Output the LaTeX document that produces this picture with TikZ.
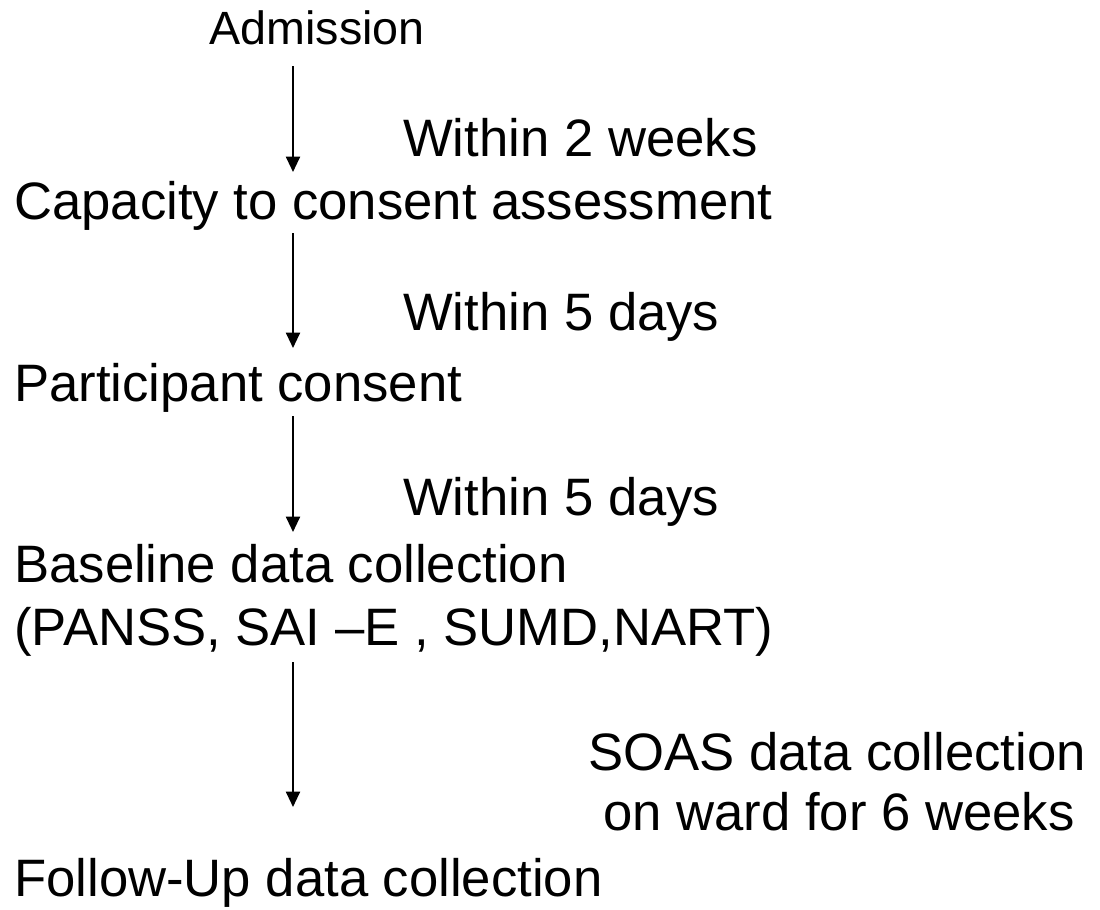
\documentclass[tikz,border=0pt]{standalone}
\usepackage{fontspec}
\setmainfont{Liberation Sans}
\usetikzlibrary{arrows.meta}
\begin{document}
\begin{tikzpicture}[x=0.75pt,y=-0.75pt,
  big/.style={inner sep=0pt,anchor=base west,font=\fontsize{39.5}{46}\selectfont},
  small/.style={inner sep=0pt,anchor=base,font=\fontsize{35}{40}\selectfont},
  arr/.style={line width=1.5pt,-{Triangle[width=10.5pt,length=11.5pt]}}]
\useasboundingbox (0,0) rectangle (1100,910);
\node[small] (adm) at (317,44) {Admission};
\node[big] (w1) at (403,156) {Within 2 weeks};
\node[big] (cap) at (14,219) {Capacity to consent assessment};
\node[big] (w2) at (403,330) {Within 5 days};
\node[big] (part) at (14,401) {Participant consent};
\node[big] (w3) at (403,515) {Within 5 days};
\node[big] (base) at (14,582) {Baseline data collection};
\node[big] (pan) at (14,645) {(PANSS, SAI –E , SUMD,NART)};
\node[big] (soas) at (588,770) {SOAS data collection};
\node[big] (ward) at (603,830) {on ward for 6 weeks};
\node[big] (fol) at (14,896) {Follow-Up data collection};
\coordinate (a1s) at (293,66);
\coordinate (a1e) at (293,172);
\coordinate (a2s) at (293,233);
\coordinate (a2e) at (293,348);
\coordinate (a3s) at (293,416);
\coordinate (a3e) at (293,532);
\coordinate (a4s) at (293,662);
\coordinate (a4e) at (293,807);
\draw[arr] (a1s) -- (a1e);
\draw[arr] (a2s) -- (a2e);
\draw[arr] (a3s) -- (a3e);
\draw[arr] (a4s) -- (a4e);
\end{tikzpicture}
\end{document}
